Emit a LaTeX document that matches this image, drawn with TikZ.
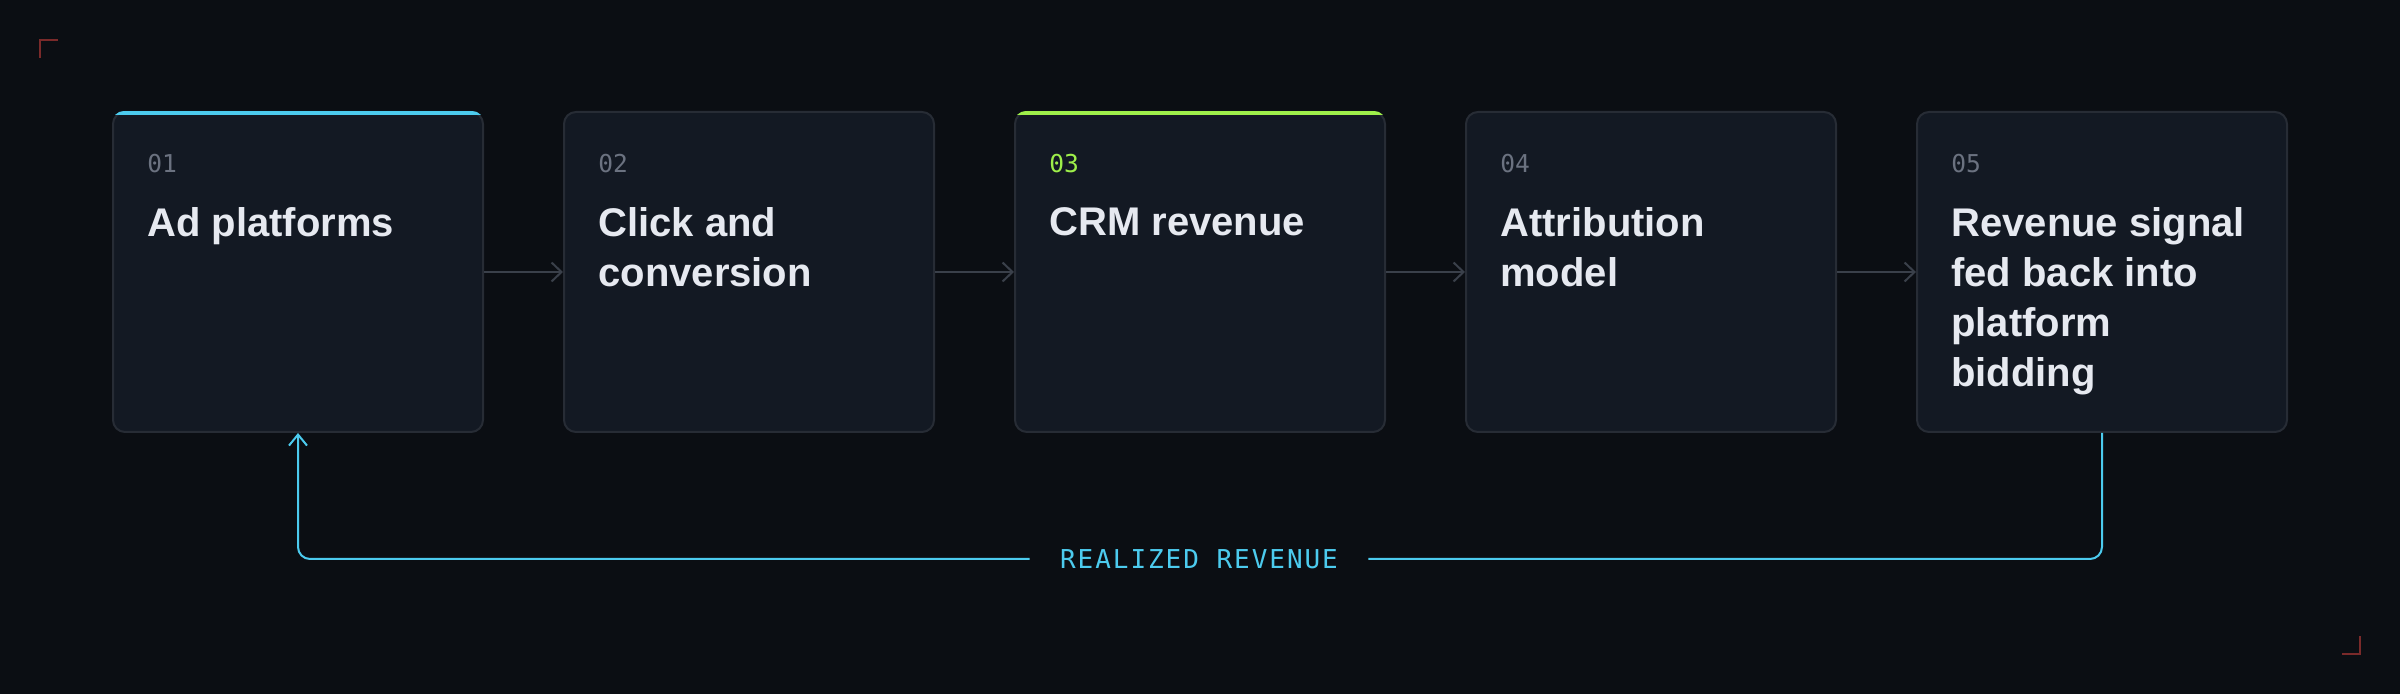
\documentclass[tikz,border=0pt]{standalone}
\usepackage{fontspec}
\setmainfont{Liberation Sans}
\newfontfamily\numfont{DejaVu Sans Mono}
\usetikzlibrary{arrows.meta}
\definecolor{bg}{HTML}{0B0E13}
\definecolor{cardfill}{HTML}{131923}
\definecolor{cardline}{HTML}{272C35}
\definecolor{titlec}{HTML}{E6E9F0}
\definecolor{numgray}{HTML}{6B7280}
\definecolor{arrowgray}{HTML}{3A404A}
\definecolor{cyanc}{HTML}{4CCBEE}
\definecolor{greenc}{HTML}{9EEF4A}
\definecolor{cropred}{HTML}{7A2A2A}
\tikzset{
  card/.style={draw=cardline, fill=cardfill, line width=1pt, rounded corners=6pt,
    minimum width=185pt, minimum height=160pt, inner sep=0pt},
  num/.style={anchor=base west, inner sep=0pt, text=numgray,
    font=\numfont\fontsize{12.3}{14}\selectfont},
  title/.style={anchor=north west, inner sep=0pt, text=titlec, align=left,
    font=\bfseries\fontsize{20}{25}\selectfont},
  flow/.style={draw=arrowgray, line width=1pt, -{Straight Barb[length=5pt,width=9.5pt]}},
  fb/.style={draw=cyanc, line width=1pt, rounded corners=6pt},
  crop/.style={draw=cropred, line width=1pt},
}
\begin{document}
\begin{tikzpicture}[x=0.5pt, y=-0.5pt]
    \fill[bg] (0,0) rectangle (2400,694);
    \useasboundingbox (0,0) rectangle (2400,694);
    % corner marks
    \draw[crop] (40,58) -- (40,40) -- (58,40);
    \draw[crop] (2342,654) -- (2360,654) -- (2360,636);
    % cards
    \node[card] (ads) at (298,272) {};
    \node[card] (click) at (749,272) {};
    \node[card] (crm) at (1200,272) {};
    \node[card] (attr) at (1651,272) {};
    \node[card] (signal) at (2102,272) {};
    \begin{scope}
        \clip[rounded corners=6pt] (ads.north west) rectangle (ads.south east);
        \fill[cyanc] (ads.north west) rectangle ([yshift=-2pt]ads.north east);
    \end{scope}
    \begin{scope}
        \clip[rounded corners=6pt] (crm.north west) rectangle (crm.south east);
        \fill[greenc] (crm.north west) rectangle ([yshift=-2pt]crm.north east);
    \end{scope}
    % numbers and titles
    \node[num] (ads-n) at (147,173) {01};
    \node[title] (ads-t) at (147,207) {Ad platforms};
    \node[num] (click-n) at (598,173) {02};
    \node[title] (click-t) at (598,207) {Click and\\conversion};
    \node[num, text=greenc] (crm-n) at (1049,173) {03};
    \node[title] (crm-t) at (1049,207) {CRM revenue};
    \node[num] (attr-n) at (1500,173) {04};
    \node[title] (attr-t) at (1500,207) {Attribution\\model};
    \node[num] (signal-n) at (1951,173) {05};
    \node[title] (signal-t) at (1951,207) {Revenue signal\\fed back into\\platform\\bidding};
    % flow
    \draw[flow] (ads) -- (click);
    \draw[flow] (click) -- (crm);
    \draw[flow] (crm) -- (attr);
    \draw[flow] (attr) -- (signal);
    % feedback loop
    \node[inner xsep=15pt, inner ysep=0pt, text=cyanc,
        font=\numfont\addfontfeatures{LetterSpace=7.5}\fontsize{13}{15}\selectfont]
        (loop) at (1199,559) {REALIZED REVENUE};
    \draw[fb] (signal.south) |- (loop.east);
    \draw[fb, -{Straight Barb[length=5.5pt,width=9pt]}] (loop.west) -| (ads.south);
\end{tikzpicture}
\end{document}
